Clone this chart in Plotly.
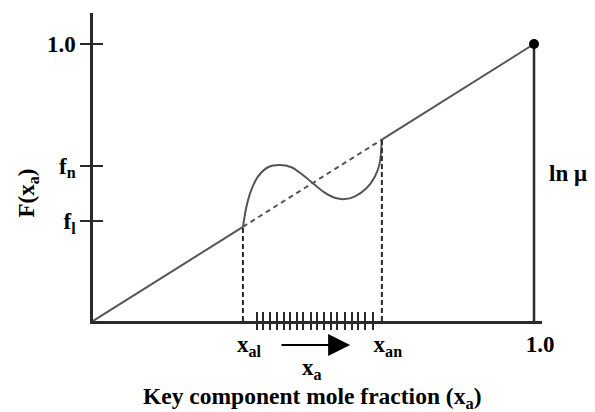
import plotly.graph_objects as go

# Key points along the mole-fraction axis
x_al = 0.340          # onset of the unstable region
x_an = 0.655          # end of the unstable region
x_end = 1.0

# F(x) levels marked on the vertical axis
f_l = 0.362
f_n = 0.561
f_top = 1.0

# Ideal (linear) F(x_a) line endpoints
ideal_x = [0.0, x_al, x_an, x_end]
ideal_f = [0.0, x_al, x_an, x_end]

# Non-ideal F(x_a) curve between x_al and x_an
curve_x = [0.340, 0.348, 0.359, 0.374, 0.397, 0.423, 0.450, 0.476, 0.499,
           0.522, 0.548, 0.571, 0.593, 0.620, 0.639, 0.650, 0.655]
curve_f = [0.340, 0.413, 0.473, 0.521, 0.555, 0.563, 0.555, 0.527, 0.497,
           0.467, 0.445, 0.440, 0.449, 0.479, 0.521, 0.569, 0.655]

# Hatch marks on the x axis across the unstable region
hatch_x = [0.371, 0.386, 0.401, 0.417, 0.432, 0.447, 0.462, 0.477, 0.494,
           0.509, 0.524, 0.539, 0.554, 0.571, 0.587, 0.602, 0.617, 0.636]

# Direction arrow (start, tip) along x
arrow_x = [0.424, 0.583]

x_tick_vals = [x_al, x_an, x_end]
x_tick_text = ["x<sub>al</sub>", "x<sub>an</sub>", "1.0"]
y_tick_vals = [f_l, f_n, f_top]
y_tick_text = ["f<sub>l</sub>", "f<sub>n</sub>", "1.0"]

X_RANGE = [0, 1.0181]
Y_RANGE = [0, 1.1119]

FONT = "Liberation Serif, Times New Roman, serif"
LINE = "#555555"
DARK = "#2a2a2a"

fig = go.Figure()

# Ideal line: solid outside the unstable region, dashed inside it
fig.add_trace(go.Scatter(x=ideal_x[0:2], y=ideal_f[0:2], mode="lines",
                         line=dict(color=LINE, width=2), showlegend=False))
fig.add_trace(go.Scatter(x=ideal_x[1:3], y=ideal_f[1:3], mode="lines",
                         line=dict(color=LINE, width=2, dash="5px,4px"), showlegend=False))
fig.add_trace(go.Scatter(x=ideal_x[2:4], y=ideal_f[2:4], mode="lines",
                         line=dict(color=LINE, width=2), showlegend=False))

# Non-ideal curve
fig.add_trace(go.Scatter(x=curve_x, y=curve_f, mode="lines",
                         line=dict(color=LINE, width=2, shape="spline", smoothing=0.8),
                         showlegend=False))

# Dashed drop lines at x_al and x_an
for xv, fv in [(x_al, ideal_f[1]), (x_an, ideal_f[2])]:
    fig.add_trace(go.Scatter(x=[xv, xv], y=[0, fv], mode="lines",
                             line=dict(color=DARK, width=2, dash="5px,3px"),
                             showlegend=False))

# Right-hand ln(mu) axis at x = 1 and end point
fig.add_trace(go.Scatter(x=[x_end, x_end], y=[0, f_top], mode="lines",
                         line=dict(color=DARK, width=2.5), showlegend=False))
fig.add_trace(go.Scatter(x=[x_end], y=[f_top], mode="markers",
                         marker=dict(color="black", size=10), showlegend=False))

# Invisible anchor so the overlay axes (inner tick halves) get drawn
fig.add_trace(go.Scatter(x=[x_end], y=[f_top], xaxis="x2", yaxis="y2",
                         mode="markers", marker=dict(opacity=0),
                         hoverinfo="skip", showlegend=False))

tick_font = dict(family=FONT, size=23, color="black", weight="bold")

fig.update_layout(
    width=595, height=412,
    margin=dict(l=93, r=53, t=13, b=91),
    paper_bgcolor="white", plot_bgcolor="white",
    xaxis=dict(range=X_RANGE, showline=True, linecolor=DARK, linewidth=2.5,
               showgrid=False, zeroline=False,
               tickmode="array", tickvals=x_tick_vals, ticktext=x_tick_text,
               ticks="", tickfont=tick_font, ticklabelstandoff=1, ticklabelshift=6,
               minor=dict(tickmode="array", tickvals=hatch_x, ticks="outside",
                          ticklen=6, tickwidth=2, tickcolor=DARK, showgrid=False)),
    xaxis2=dict(range=X_RANGE, overlaying="x", anchor="y2", side="bottom",
                showline=False, showgrid=False, zeroline=False,
                tickmode="array", tickvals=hatch_x, ticks="inside",
                ticklen=9, tickwidth=2, tickcolor=DARK, showticklabels=False),
    yaxis=dict(range=Y_RANGE, showline=True, linecolor=DARK, linewidth=2.5,
               showgrid=False, zeroline=False,
               tickmode="array", tickvals=y_tick_vals, ticktext=y_tick_text,
               ticks="outside", ticklen=10, tickwidth=2, tickcolor=DARK,
               tickfont=tick_font),
    yaxis2=dict(range=Y_RANGE, overlaying="y", anchor="x2", side="left",
                showline=False, showgrid=False, zeroline=False,
                tickmode="array", tickvals=y_tick_vals, ticks="inside",
                ticklen=10, tickwidth=2, tickcolor=DARK, showticklabels=False),
)

ann_font = dict(family=FONT, size=23, color="black", weight="bold")

# Direction arrow under the hatched region
fig.add_annotation(x=arrow_x[1], y=-0.078, ax=arrow_x[0], ay=0,
                   xref="x", yref="paper", axref="x", ayref="pixel",
                   text="", showarrow=True, arrowhead=2, arrowsize=2.2,
                   arrowwidth=2, arrowcolor="black")
fig.add_annotation(x=0.497, y=-0.156, xref="x", yref="paper", text="x<sub>a</sub>",
                   xanchor="center", yanchor="middle", showarrow=False, font=ann_font)
fig.add_annotation(x=1.0105, y=0.4805, xref="paper", yref="paper", text="ln μ",
                   xanchor="left", yanchor="middle", showarrow=False, font=ann_font)
fig.add_annotation(x=-0.1448, y=0.417, xref="paper", yref="paper",
                   text="F(x<sub>a</sub>)", textangle=-90, showarrow=False,
                   xanchor="center", yanchor="middle", font=ann_font)
fig.add_annotation(x=0.488, y=-0.25, xref="paper", yref="paper",
                   text="Key component mole fraction (x<sub>a</sub>)",
                   xanchor="center", yanchor="middle", showarrow=False,
                   font=dict(family=FONT, size=23.5, color="black", weight="bold"))

fig.write_html("out.html")
